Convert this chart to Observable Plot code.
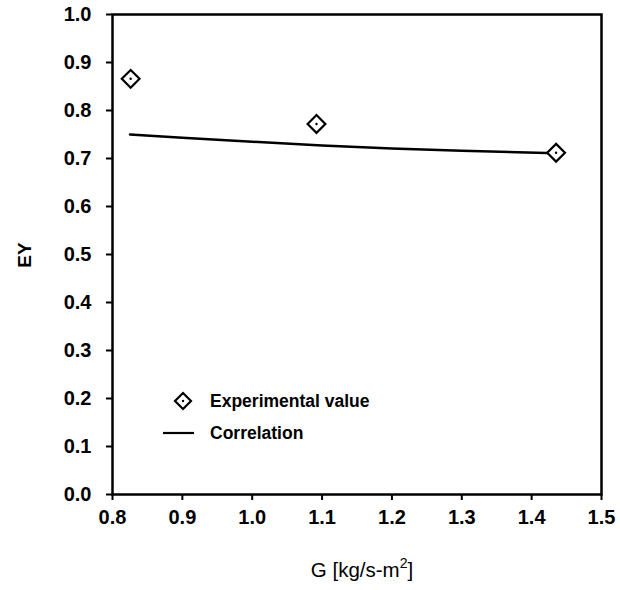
<!DOCTYPE html>
<html>
<head>
<meta charset="utf-8">
<script src="https://cdn.jsdelivr.net/npm/d3@7"></script>
<script src="https://cdn.jsdelivr.net/npm/@observablehq/plot@0.6"></script>
<style>
  html, body { margin: 0; padding: 0; background: #fff; }
  #wrap { position: relative; width: 620px; height: 590px; font-family: "Liberation Sans", Arial, sans-serif; }
  #legend { position: absolute; left: 160px; top: 385px; font-size: 17.5px; font-weight: bold; color: #000; }
  #legend .row { display: flex; align-items: center; height: 32px; }
  #legend svg { width: 50px; height: 32px; }
  svg g[aria-label$="tick label"] text { font-size: 20px; }
</style>
</head>
<body>
<div id="wrap"></div>
<script>
// Experimental values
const expG = [0.826, 1.092, 1.435];
const expE = [0.866, 0.772, 0.712];
// Correlation curve
const corrG = [0.825, 0.9, 1.0, 1.1, 1.2, 1.3, 1.435];
const corrE = [0.750, 0.743, 0.735, 0.727, 0.721, 0.716, 0.711];
// Ticks
const xTicks = [0.8, 0.9, 1.0, 1.1, 1.2, 1.3, 1.4, 1.5];
const yTicks = [0.0, 0.1, 0.2, 0.3, 0.4, 0.5, 0.6, 0.7, 0.8, 0.9, 1.0];

const expData = expG.map((g, i) => ({g, e: expE[i]}));
const corrData = corrG.map((g, i) => ({g, e: corrE[i]}));

const font = "'Liberation Sans', Arial, sans-serif";

const chart = Plot.plot({
  width: 620,
  height: 590,
  marginLeft: 112,
  marginRight: 19,
  marginTop: 14,
  marginBottom: 96,
  style: {fontFamily: font, fontWeight: "bold", color: "#000", background: "#fff", fontSize: "20px"},
  x: {domain: [0.8, 1.5], label: null},
  y: {domain: [0, 1.0], label: null},
  marks: [
    Plot.frame({stroke: "#000", strokeWidth: 2.5}),
    Plot.axisX({ticks: xTicks, tickFormat: d => d.toFixed(1), tickSize: 6, tickPadding: 9, strokeWidth: 2, fontSize: 20, label: null}),
    Plot.axisY({ticks: yTicks, tickFormat: d => d.toFixed(1), tickSize: 6, tickPadding: 15, strokeWidth: 2, fontSize: 20, label: null}),
    Plot.line(corrData, {x: "g", y: "e", stroke: "#000", strokeWidth: 2.5}),
    Plot.dot(expData, {x: "g", y: "e", symbol: "diamond2", r: 8, stroke: "#000", strokeWidth: 2.2, fill: "#fff"}),
    Plot.dot(expData, {x: "g", y: "e", r: 1.2, fill: "#000", stroke: null})
  ]
});

const wrap = document.getElementById("wrap");
wrap.appendChild(chart);

const svg = d3.select(chart);
svg.selectAll('g[aria-label$="tick label"]').attr("font-size", 20).style("font-size", "20px");

// Axis titles as real text inside the SVG
svg.append("text")
  .attr("x", 362).attr("y", 577)
  .attr("text-anchor", "middle")
  .attr("font-size", 20.5).attr("font-weight", "normal")
  .attr("font-family", font)
  .html('G [kg/s-m<tspan dy="-9" font-size="14">2</tspan><tspan dy="9">]</tspan>');
svg.append("text")
  .attr("transform", "translate(31,255) rotate(-90)")
  .attr("text-anchor", "middle")
  .attr("font-size", 19).attr("font-weight", "bold")
  .attr("font-family", font)
  .text("EY");

// Legend
const legend = document.createElement("div");
legend.id = "legend";
legend.innerHTML = `
  <div class="row"><svg viewBox="0 0 50 32"><path d="M23,8 L31,16 L23,24 L15,16 Z" fill="#fff" stroke="#000" stroke-width="2.2"/><circle cx="23" cy="16" r="1.2" fill="#000"/></svg><span>Experimental value</span></div>
  <div class="row"><svg viewBox="0 0 50 32"><line x1="3" y1="16" x2="34" y2="16" stroke="#000" stroke-width="2.2"/></svg><span>Correlation</span></div>`;
wrap.appendChild(legend);
</script>
</body>
</html>
